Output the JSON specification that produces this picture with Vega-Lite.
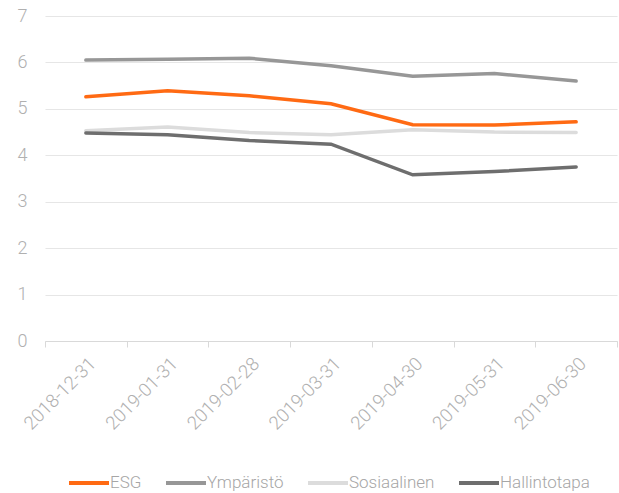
{
  "$schema": "https://vega.github.io/schema/vega-lite/v6.json",
  "width": 572,
  "height": 325,
  "autosize": {"type": "none"},
  "padding": {"left": 45, "top": 16, "right": 2, "bottom": 152},
  "config": {
    "view": {"stroke": null},
    "font": "Roboto",
    "axis": {"labelColor": "#b0b0b0", "labelFont": "Roboto", "labelFontWeight": 300},
    "legend": {"labelColor": "#a6a6a6", "labelFont": "Roboto", "labelFontWeight": 300}
  },
  "data": {
    "values": [
      {"date": "2018-12-31", "series": "ESG", "value": 5.26},
      {"date": "2019-01-31", "series": "ESG", "value": 5.39},
      {"date": "2019-02-28", "series": "ESG", "value": 5.28},
      {"date": "2019-03-31", "series": "ESG", "value": 5.11},
      {"date": "2019-04-30", "series": "ESG", "value": 4.66},
      {"date": "2019-05-31", "series": "ESG", "value": 4.65},
      {"date": "2019-06-30", "series": "ESG", "value": 4.72},
      {"date": "2018-12-31", "series": "Ympäristö", "value": 6.05},
      {"date": "2019-01-31", "series": "Ympäristö", "value": 6.07},
      {"date": "2019-02-28", "series": "Ympäristö", "value": 6.09},
      {"date": "2019-03-31", "series": "Ympäristö", "value": 5.93},
      {"date": "2019-04-30", "series": "Ympäristö", "value": 5.70},
      {"date": "2019-05-31", "series": "Ympäristö", "value": 5.76},
      {"date": "2019-06-30", "series": "Ympäristö", "value": 5.60},
      {"date": "2018-12-31", "series": "Sosiaalinen", "value": 4.53},
      {"date": "2019-01-31", "series": "Sosiaalinen", "value": 4.61},
      {"date": "2019-02-28", "series": "Sosiaalinen", "value": 4.49},
      {"date": "2019-03-31", "series": "Sosiaalinen", "value": 4.44},
      {"date": "2019-04-30", "series": "Sosiaalinen", "value": 4.55},
      {"date": "2019-05-31", "series": "Sosiaalinen", "value": 4.50},
      {"date": "2019-06-30", "series": "Sosiaalinen", "value": 4.49},
      {"date": "2018-12-31", "series": "Hallintotapa", "value": 4.48},
      {"date": "2019-01-31", "series": "Hallintotapa", "value": 4.44},
      {"date": "2019-02-28", "series": "Hallintotapa", "value": 4.32},
      {"date": "2019-03-31", "series": "Hallintotapa", "value": 4.24},
      {"date": "2019-04-30", "series": "Hallintotapa", "value": 3.58},
      {"date": "2019-05-31", "series": "Hallintotapa", "value": 3.65},
      {"date": "2019-06-30", "series": "Hallintotapa", "value": 3.75}
    ]
  },
  "mark": {"type": "line", "strokeWidth": 3.5, "strokeCap": "round"},
  "encoding": {
    "x": {
      "field": "date", "type": "ordinal", "title": null,
      "scale": {"type": "band", "paddingInner": 0, "paddingOuter": 0},
      "axis": {
        "labelAngle": -45, "labelFontSize": 18.5, "labelPadding": 7,
        "domainColor": "#d9d9d9", "tickColor": "#d9d9d9", "tickSize": 6,
        "tickBand": "extent", "grid": false
      }
    },
    "y": {
      "field": "value", "type": "quantitative", "title": null,
      "scale": {"domain": [0, 7], "nice": false},
      "axis": {
        "values": [0, 1, 2, 3, 4, 5, 6, 7], "labelFontSize": 18, "labelPadding": 18,
        "domain": false, "ticks": false, "gridColor": "#e6e6e6", "gridWidth": 1.2
      }
    },
    "color": {
      "field": "series", "type": "nominal", "title": null,
      "scale": {
        "domain": ["ESG", "Ympäristö", "Sosiaalinen", "Hallintotapa"],
        "range": ["#ff6a13", "#979797", "#dcdcdc", "#6e6e6e"]
      },
      "legend": {
        "orient": "none", "legendX": 22, "legendY": 445, "direction": "horizontal",
        "symbolType": "stroke", "symbolSize": 1600, "symbolStrokeWidth": 4,
        "labelFontSize": 17, "labelOffset": -1, "columnPadding": 16
      }
    }
  }
}
